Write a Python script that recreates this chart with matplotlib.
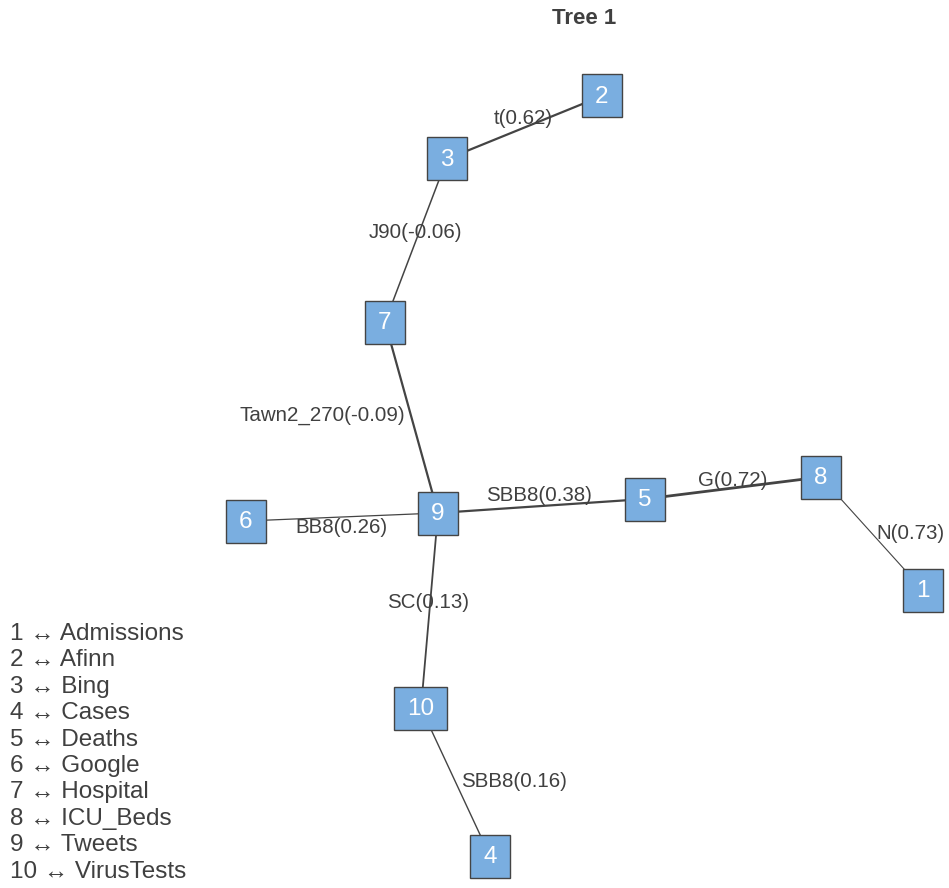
import matplotlib
matplotlib.use('Agg')
import matplotlib.pyplot as plt
from matplotlib.patches import Rectangle

plt.rcParams['font.family'] = ['Liberation Sans', 'DejaVu Sans']

# ---- data: nodes, layout, edges ----
node_ids = [1, 2, 3, 4, 5, 6, 7, 8, 9, 10]
node_names = ["Admissions", "Afinn", "Bing", "Cases", "Deaths",
              "Google", "Hospital", "ICU_Beds", "Tweets", "VirusTests"]
# layout coordinates (pixel space of the original plot)
node_x = [923, 602, 447, 490, 645, 246, 385, 821, 438, 421]
node_y = [590, 96, 159, 856, 499, 521, 322, 477, 513, 708]

edge_from = [2, 3, 7, 6, 9, 5, 8, 9, 10]
edge_to = [3, 7, 9, 9, 5, 8, 1, 10, 4]
edge_labels = ["t(0.62)", "J90(-0.06)", "Tawn2_270(-0.09)", "BB8(0.26)",
               "SBB8(0.38)", "G(0.72)", "N(0.73)", "SC(0.13)", "SBB8(0.16)"]
edge_width = [1.6, 1.1, 1.6, 0.9, 1.6, 2.0, 0.8, 1.3, 1.0]
label_dx = [-1, -1, -89, -1, -3, 0, 38, -1, 58]
label_dy = [-9, -8, -2, 10, -11, -8, 0, -8, -1]

W, H = 949, 888
fig = plt.figure(figsize=(W / 100, H / 100), dpi=100)
ax = fig.add_axes([0, 0, 1, 1])
ax.set_xlim(0, W)
ax.set_ylim(H, 0)
ax.axis('off')

pos = {n: (x, y) for n, x, y in zip(node_ids, node_x, node_y)}

# edges
for a, b, lw in zip(edge_from, edge_to, edge_width):
    (x0, y0), (x1, y1) = pos[a], pos[b]
    ax.plot([x0, x1], [y0, y1], color="#444444", lw=lw, zorder=1)

# edge labels
for a, b, lab, dx, dy in zip(edge_from, edge_to, edge_labels, label_dx, label_dy):
    (x0, y0), (x1, y1) = pos[a], pos[b]
    mx, my = (x0 + x1) / 2 + dx, (y0 + y1) / 2 + dy
    ax.text(mx, my, lab, ha="center", va="center", fontsize=14.8,
            color="#404040", zorder=3)

# nodes (box grows with label length)
bh = 43
for n in node_ids:
    x, y = pos[n]
    bw = 40 + 13 * (len(str(n)) - 1)
    ax.add_patch(Rectangle((x - bw / 2, y - bh / 2), bw, bh,
                           facecolor="#7AAEE0", edgecolor="#444444",
                           lw=1.0, zorder=2))
    ax.text(x, y + 1, str(n), ha="center", va="center", fontsize=17.5,
            color="white", zorder=4)

# title
ax.text(584, 18, "Tree 1", ha="center", va="center", fontsize=16,
        fontweight="bold", color="#404040")

# legend of variable names
for i, (n, name) in enumerate(zip(node_ids, node_names)):
    ax.text(10, 634 + i * 26.4, f"{n} \u2194 {name}", ha="left", va="center",
            fontsize=17.5, color="#404040")

fig.savefig("out.png", dpi=100)
